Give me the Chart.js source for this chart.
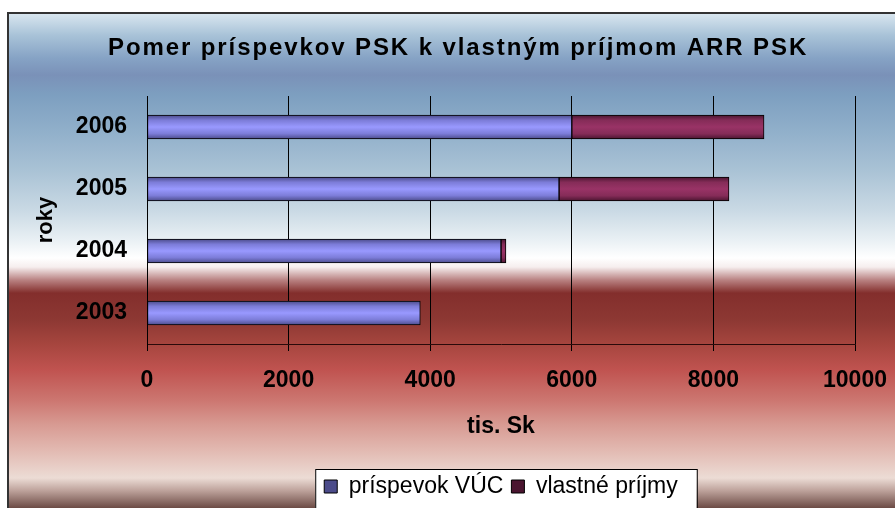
<!DOCTYPE html>
<html>
<head>
<meta charset="utf-8">
<script src="https://cdn.jsdelivr.net/npm/chart.js@4.4.1/dist/chart.umd.min.js"></script>
<style>
  html, body { margin: 0; padding: 0; background: #fff; }
  canvas { display: block; }
</style>
</head>
<body>
<canvas id="myChart" width="895" height="508"></canvas>
<script>
// ===========================
// DATA
// ===========================
const years = ["2006", "2005", "2004", "2003"];       // top to bottom
const prispevokVUC = [6000, 5820, 5000, 3860];        // tis. Sk
const vlastnePrijmy = [2715, 2400, 70, 0];            // tis. Sk
const xTicks = [0, 2000, 4000, 6000, 8000, 10000];

const TITLE = "Pomer príspevkov PSK k vlastným príjmom ARR PSK";
const FONT = "'Liberation Sans', Arial, sans-serif";

// vertical gradient across one bar (bar is 24px thick)
function barFill(edge, mid, plain) {
    return function (c) {
        if (c.type !== "data") return plain;
        const chart = c.chart;
        const y = chart.scales.y.getPixelForValue(c.dataIndex);
        if (!isFinite(y)) return plain;
        const g = chart.ctx.createLinearGradient(0, y - 12, 0, y + 12);
        g.addColorStop(0, edge);
        g.addColorStop(0.22, mid[0]);
        g.addColorStop(0.5, mid[1]);
        g.addColorStop(0.78, mid[0]);
        g.addColorStop(1, edge);
        return g;
    };
}

// background, frame, legend box and title
const framePlugin = {
    id: "frame",
    beforeDraw(chart) {
        const ctx = chart.ctx;
        const W = chart.width, H = chart.height;
        ctx.save();
        ctx.fillStyle = "#ffffff";
        ctx.fillRect(0, 0, W, H);

        const g = ctx.createLinearGradient(0, 13, 0, H);
        const stops = [
            [13, "#dae7f0"], [35, "#a9c3d8"], [58, "#86a3c5"], [75, "#7a91b8"],
            [95, "#7d9fc0"], [130, "#90afca"], [170, "#a9c2d5"], [210, "#c9d9e4"],
            [240, "#e9f0f4"], [258, "#ffffff"], [267, "#f6eeee"], [280, "#b98282"],
            [293, "#832e2c"], [320, "#8d3833"], [345, "#a7463f"], [370, "#c05350"],
            [400, "#cc7670"], [425, "#d89b93"], [450, "#e2b9b1"], [478, "#ecdcd5"],
            [490, "#c0a59e"], [508, "#6c4b45"]
        ];
        stops.forEach(s => g.addColorStop((s[0] - 13) / (H - 13), s[1]));
        ctx.fillStyle = g;
        ctx.fillRect(8, 13, W - 8, H - 13);

        ctx.strokeStyle = "#333333";
        ctx.lineWidth = 2;
        ctx.beginPath();
        ctx.moveTo(8, H);
        ctx.lineTo(8, 13);
        ctx.lineTo(W, 13);
        ctx.stroke();

        // legend box
        const lg = chart.legend;
        if (lg && lg.legendHitBoxes && lg.legendHitBoxes.length) {
            const hb = lg.legendHitBoxes;
            const first = hb[0], last = hb[hb.length - 1];
            const left = first.left - 9;
            const right = last.left + last.width + 19;
            ctx.fillStyle = "#ffffff";
            ctx.fillRect(left, 469, right - left, H);
            ctx.strokeStyle = "#000000";
            ctx.lineWidth = 1;
            ctx.strokeRect(left + 0.5, 469.5, right - left, H);
        }

        // title
        ctx.fillStyle = "#000000";
        ctx.font = "bold 24px " + FONT;
        ctx.textBaseline = "alphabetic";
        ctx.textAlign = "left";
        const w0 = ctx.measureText(TITLE).width;
        ctx.letterSpacing = Math.max(0, (700 - w0) / TITLE.length).toFixed(2) + "px";
        ctx.fillText(TITLE, 108, 55);
        ctx.restore();
    }
};

function plotGraph() {
    const ctx = document.getElementById("myChart").getContext("2d");

    new Chart(ctx, {
        type: "bar",
        data: {
            labels: years,
            datasets: [{
                label: "príspevok VÚC",
                data: prispevokVUC,
                backgroundColor: barFill("#4b4b8a", ["#7c7cd8", "#9999ff"], "#9999ff"),
                borderColor: "#000000",
                borderWidth: 1,
                borderSkipped: false,
                barThickness: 24
            }, {
                label: "vlastné príjmy",
                data: vlastnePrijmy,
                backgroundColor: barFill("#4a1530", ["#852c58", "#993366"], "#993366"),
                borderColor: "#000000",
                borderWidth: 1,
                borderSkipped: false,
                barThickness: 24
            }]
        },
        options: {
            indexAxis: "y",
            responsive: false,
            animation: false,
            layout: { padding: { top: 96, left: 22, right: 40, bottom: 0 } },
            scales: {
                x: {
                    stacked: true,
                    min: xTicks[0],
                    max: xTicks[xTicks.length - 1],
                    afterFit: s => { s.height = 123; s.paddingLeft = 0; s.paddingRight = 0; },
                    afterBuildTicks: s => { s.ticks = xTicks.map(v => ({ value: v })); },
                    grid: { color: "#000000", lineWidth: 1, tickLength: 7, drawTicks: true },
                    border: { color: "#2a0a0a", width: 1 },
                    ticks: {
                        padding: 16,
                        color: "#000000",
                        callback: v => String(v),
                        font: { family: FONT, size: 23, weight: "bold" }
                    },
                    title: {
                        display: true,
                        text: "tis. Sk",
                        color: "#000000",
                        padding: { top: 0, bottom: 27 },
                        font: { family: FONT, size: 23, weight: "bold" }
                    }
                },
                y: {
                    stacked: true,
                    afterFit: s => { s.width = 125; },
                    grid: { display: false, drawTicks: false },
                    border: { display: true, color: "#000000", width: 1 },
                    ticks: {
                        padding: 20,
                        color: "#000000",
                        font: { family: FONT, size: 23, weight: "bold" }
                    },
                    title: {
                        display: true,
                        text: "roky",
                        color: "#000000",
                        padding: { top: 11, bottom: 0 },
                        font: { family: FONT, size: 22, weight: "bold" }
                    }
                }
            },
            plugins: {
                title: { display: false },
                tooltip: { enabled: false },
                legend: {
                    position: "bottom",
                    fullSize: false,
                    labels: {
                        color: "#000000",
                        boxWidth: 13,
                        boxHeight: 13,
                        padding: 8,
                        font: { family: FONT, size: 23 }
                    }
                }
            }
        },
        plugins: [framePlugin]
    });
}

plotGraph();
</script>
</body>
</html>
